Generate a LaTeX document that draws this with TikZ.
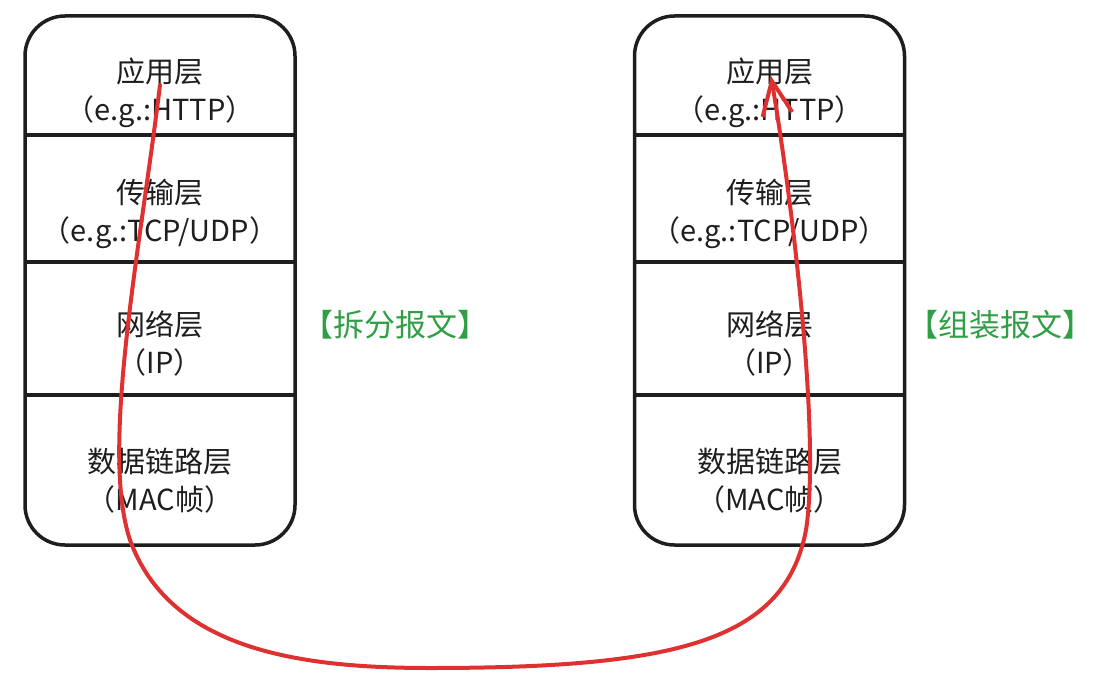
\documentclass[tikz,border=0pt]{standalone}
\usepackage{fontspec}
\setmainfont{Noto Sans CJK SC}
\usetikzlibrary{positioning}
\usetikzlibrary{arrows.meta}
\definecolor{ink}{HTML}{1E1E1E}
\definecolor{flowc}{HTML}{E03131}
\definecolor{tagc}{HTML}{2F9E44}

\begin{document}
\begin{tikzpicture}[x=1pt, y=-1pt,
    stack/.style = {draw=ink, line width=3.5pt, rounded corners=40pt, minimum width=270pt, minimum height=529pt},
    divider/.style = {draw=ink, line width=3.5pt},
    layer/.style = {align=center, text=ink, font=\fontsize{29}{38}\selectfont},
    tag/.style = {text=tagc, font=\fontsize{31}{34}\selectfont},
    flow/.style = {draw=flowc, line width=4pt, line cap=round, -{Straight Barb[length=34pt,width=30pt]}}]
	\useasboundingbox (0,0) rectangle (1105,682);
	% sending side
	\node[stack] (lstack) at (160,280.5) {};
	\draw[divider] (25,135) -- (295,135);
	\draw[divider] (25,262) -- (295,262);
	\draw[divider] (25,395) -- (295,395);
	\node[layer] (lapp) at (160,93) {应用层\\（e.g.:HTTP）};
	\node[layer] (ltrans) at (160,214) {传输层\\（e.g.:TCP/UDP）};
	\node[layer] (lnet) at (160,344) {网络层\\（IP）};
	\node[layer] (llink) at (160,481) {数据链路层\\（MAC帧）};
	\node[tag] (split) at (395,325) {【拆分报文】};
	% receiving side
	\node[stack] (rstack) at (769.5,280.5) {};
	\draw[divider] (634,135) -- (905,135);
	\draw[divider] (634,262) -- (905,262);
	\draw[divider] (634,395) -- (905,395);
	\node[layer] (rapp) at (769.5,93) {应用层\\（e.g.:HTTP）};
	\node[layer] (rtrans) at (769.5,214) {传输层\\（e.g.:TCP/UDP）};
	\node[layer] (rnet) at (769.5,344) {网络层\\（IP）};
	\node[layer] (rlink) at (769.5,481) {数据链路层\\（MAC帧）};
	\node[tag] (assemble) at (1000,325) {【组装报文】};
	% frame path
	\coordinate (lsrc) at (160,85);
	\coordinate (rdst) at (771,76);
	\draw[flow] (lsrc) .. controls (140,250) and (100,450) .. (130,540)
		.. controls (170,650) and (300,668) .. (430,668)
		.. controls (680,668) and (785,640) .. (806,530)
		.. controls (820,440) and (795,220) .. (rdst);
\end{tikzpicture}
\end{document}
